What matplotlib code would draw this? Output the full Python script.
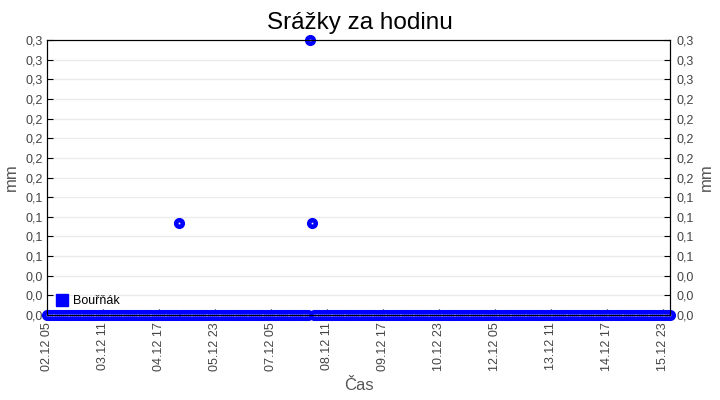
import matplotlib
matplotlib.use("Agg")
import matplotlib.pyplot as plt
import matplotlib.dates as mdates
from matplotlib.ticker import FixedLocator, FuncFormatter
from matplotlib.lines import Line2D
import numpy as np
import pandas as pd

# ---- data ----
start = "2023-12-02 05:00"
end = "2023-12-16 03:00"
series_name = "Bouřňák"
rain_events = {  # time -> mm (all other hours are 0)
    "2023-12-05 04:00": 0.1,
    "2023-12-08 02:00": 0.3,
    "2023-12-08 03:00": 0.1,
}
y_max = 0.3
n_yticks = 15
tick_step_hours = 30

times = pd.date_range(start, end, freq="h")
values = pd.Series(0.0, index=times)
for t, v in rain_events.items():
    values[pd.Timestamp(t)] = v

plt.rcParams['font.family'] = ['Liberation Sans', 'DejaVu Sans']

fig = plt.figure(figsize=(7.2, 4.0), dpi=100)
ax = fig.add_axes([47/720, 85/400, 623/720, 275/400])

x = mdates.date2num(values.index.to_pydatetime())
y = values.values
ax.plot(x, y, linestyle='none', marker='o', ms=7, color='#0000ff',
        markeredgecolor='#0000ff', clip_on=False, zorder=3)
ax.plot(x, y, linestyle='none', marker='s', ms=1.2, color='white',
        markeredgewidth=0, clip_on=False, zorder=4)

ax.set_xlim(x[0], x[-1])
ax.set_ylim(0, y_max)

yt = np.linspace(0, y_max, n_yticks)
def yfmt(v, pos):
    r = np.floor(v * 10 + 0.5 + 1e-9) / 10
    return f"{r:.1f}".replace('.', ',')

ax.yaxis.set_major_locator(FixedLocator(yt))
ax.yaxis.set_major_formatter(FuncFormatter(yfmt))

xt_times = pd.date_range(start, end, freq=f"{tick_step_hours}h")
xt = mdates.date2num(xt_times.to_pydatetime())
ax.xaxis.set_major_locator(FixedLocator(xt))
ax.xaxis.set_major_formatter(mdates.DateFormatter('%d.%m %H'))

lab_col = '#444444'
ax.grid(axis='y', color='#ebebeb', linewidth=1)
ax.set_axisbelow(True)
ax.tick_params(axis='both', direction='in', length=4, labelsize=9, labelcolor=lab_col)
ax.tick_params(axis='y', pad=3)
ax.tick_params(axis='x', labelrotation=90, pad=5)
for sp in ax.spines.values():
    sp.set_color('black')

ax2 = ax.twinx()
ax2.set_ylim(0, y_max)
ax2.yaxis.set_major_locator(FixedLocator(yt))
ax2.yaxis.set_major_formatter(FuncFormatter(yfmt))
ax2.tick_params(axis='y', direction='in', length=4, labelsize=9, labelcolor=lab_col, pad=5)

ax.set_ylabel('mm', fontsize=12, color='#555555', labelpad=5)
ax2.set_ylabel('mm', fontsize=12, color='#555555', rotation=90, labelpad=3)
ax.set_xlabel('Čas', fontsize=12, color='#555555', labelpad=5)

fig.suptitle('Srážky za hodinu', fontsize=17.5, y=0.97, x=360/720)

handle = Line2D([], [], linestyle='none', marker='s', ms=9, color='#0000ff')
leg = ax.legend([handle], [series_name], loc='lower left', frameon=False,
                fontsize=9, handletextpad=0.3, handlelength=1.2,
                borderaxespad=0.2, bbox_to_anchor=(0.0, 0.0))

fig.savefig('out.png', dpi=100)
